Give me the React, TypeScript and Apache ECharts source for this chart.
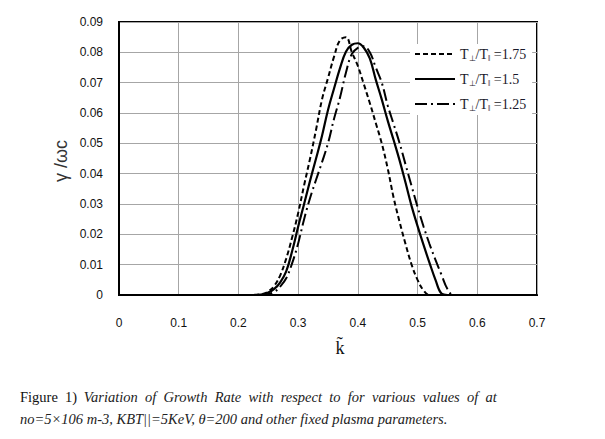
import React, { useEffect, useRef } from "react";
import * as echarts from "echarts";

const kValues = [
  0.2, 0.21, 0.22, 0.23, 0.24, 0.25, 0.26, 0.27, 0.28, 0.29, 0.3, 0.31, 0.32, 0.33, 0.34,
  0.35, 0.36, 0.37, 0.38, 0.39, 0.4, 0.41, 0.42, 0.43, 0.44, 0.45, 0.46, 0.47, 0.48, 0.49,
  0.5, 0.51, 0.52, 0.53, 0.54, 0.55, 0.56, 0.57, 0.58, 0.59, 0.6, 0.61, 0.62,
];
const growth175 = [
  0, 0, 0, 0.0001, 0.0003, 0.0012, 0.003, 0.0065, 0.012, 0.019, 0.027, 0.0362, 0.045, 0.0545, 0.0645,
  0.0715, 0.0785, 0.084, 0.085, 0.08, 0.0755, 0.0695, 0.0633, 0.0567, 0.05, 0.0417, 0.032, 0.024, 0.0167, 0.01,
  0.005, 0.0015, 0, 0, 0, 0, 0, 0, 0, 0, 0, 0, 0,
];
const growth15 = [
  0, 0, 0, 0, 0.0002, 0.0008, 0.002, 0.0042, 0.0078, 0.0145, 0.0225, 0.03, 0.0377, 0.045, 0.0525,
  0.061, 0.068, 0.0747, 0.0802, 0.0825, 0.083, 0.0815, 0.078, 0.071, 0.0645, 0.0575, 0.051, 0.0443, 0.0369, 0.0293,
  0.0227, 0.0165, 0.0106, 0.005, 0.0005, 0, 0, 0, 0, 0, 0, 0, 0,
];
const growth125 = [
  0, 0, 0, 0, 0, 0.0003, 0.001, 0.0028, 0.0055, 0.0105, 0.017, 0.025, 0.032, 0.038, 0.0438,
  0.05, 0.058, 0.065, 0.0733, 0.0795, 0.0815, 0.082, 0.08, 0.075, 0.07, 0.0625, 0.0563, 0.05, 0.0429, 0.0359,
  0.029, 0.0226, 0.0168, 0.0116, 0.0067, 0.002, 0, 0, 0, 0, 0, 0, 0,
];
const seriesNames = ["1.75", "1.5", "1.25"];
const yTicks = ["0", "0.01", "0.02", "0.03", "0.04", "0.05", "0.06", "0.07", "0.08", "0.09"];

export default function App() {
  const ref = useRef<HTMLDivElement>(null);
  useEffect(() => {
    if (!ref.current) return;
    const chart = echarts.init(ref.current, null, { renderer: "svg" });
    const mk = (vals: number[]) => kValues.map((k, i) => [k, vals[i]]);
    const lineCommon = {
      type: "line",
      smooth: 0.4,
      showSymbol: false,
      symbol: "none",
    };
    chart.setOption({
      animation: false,
      backgroundColor: "#fff",
      grid: {
        left: 119,
        top: 22,
        right: 68,
        bottom: 144,
        show: true,
        borderColor: "#000",
        borderWidth: 2,
        backgroundColor: "transparent",
      },
      xAxis: {
        type: "value",
        min: 0,
        max: 0.7,
        interval: 0.1,
        axisLine: { show: true, lineStyle: { color: "#000", width: 2 } },
        axisTick: { show: false },
        splitLine: { show: true, lineStyle: { color: "#a6a6a6", width: 1 } },
        axisLabel: {
          margin: 22,
          color: "#111",
          fontFamily: "Liberation Sans",
          fontSize: 12,
          formatter: (v: number) => String(Math.round(v * 10) / 10),
        },
      },
      yAxis: {
        type: "value",
        min: 0,
        max: 0.09,
        interval: 0.01,
        axisLine: { show: true, lineStyle: { color: "#000", width: 2 } },
        axisTick: { show: false },
        splitLine: { show: true, lineStyle: { color: "#a6a6a6", width: 1 } },
        axisLabel: {
          margin: 16,
          color: "#111",
          fontFamily: "Liberation Sans",
          fontSize: 12,
          formatter: (v: number) => yTicks[Math.round(v * 100)] ?? "",
        },
      },
      legend: {
        orient: "vertical",
        left: 410,
        top: 44,
        itemGap: 10,
        itemWidth: 40,
        itemHeight: 14,
        itemStyle: { opacity: 0, color: "transparent", borderWidth: 0 },
        backgroundColor: "#fff",
        padding: [3, 6, 3, 4],
        data: seriesNames,
        formatter: (name: string) => `T{s|⊥}/T{s|‖} =${name}`,
        textStyle: {
          fontFamily: "Liberation Serif",
          fontSize: 14,
          color: "#1a1a2a",
          rich: {
            s: {
              fontFamily: "Liberation Serif",
              fontSize: 8,
              padding: [8, 0, 0, 0],
              color: "#1a1a2a",
            },
          },
        },
      },
      series: [
        {
          ...lineCommon,
          name: seriesNames[0],
          data: mk(growth175),
          lineStyle: { color: "#000", width: 2, type: [5, 3] },
          itemStyle: { color: "#000" },
        },
        {
          ...lineCommon,
          name: seriesNames[1],
          data: mk(growth15),
          lineStyle: { color: "#000", width: 2.2, type: "solid" },
          itemStyle: { color: "#000" },
        },
        {
          ...lineCommon,
          name: seriesNames[2],
          data: mk(growth125),
          lineStyle: { color: "#000", width: 2, type: [12, 4, 2, 4] },
          itemStyle: { color: "#000" },
        },
      ],
      graphic: [
        {
          type: "text",
          x: 61,
          y: 161,
          rotation: Math.PI / 2,
          style: {
            text: "γ /ωc",
            fontFamily: "Liberation Sans",
            fontSize: 18,
            fill: "#333",
            align: "center",
            verticalAlign: "middle",
          },
        },
        {
          type: "text",
          x: 340,
          y: 348,
          style: {
            text: "k\u0303",
            fontFamily: "Liberation Serif",
            fontSize: 18,
            fill: "#111",
            align: "center",
            verticalAlign: "middle",
          },
        },
        {
          type: "text",
          x: 20,
          y: 397,
          style: {
            text: "{b|Figure  1)}  {i|Variation  of  Growth  Rate  with  respect  to  for  various  values  of  at}",
            verticalAlign: "middle",
            rich: {
              b: { fontFamily: "Liberation Serif", fontSize: 14.5, fill: "#111" },
              i: {
                fontFamily: "Liberation Serif",
                fontStyle: "italic",
                fontSize: 14.5,
                fill: "#222",
              },
            },
          },
        },
        {
          type: "text",
          x: 20,
          y: 419,
          style: {
            text: "no=5×106 m-3, KBT||=5KeV, θ=200 and other fixed plasma parameters.",
            fontFamily: "Liberation Serif",
            fontStyle: "italic",
            fontSize: 14.5,
            fill: "#222",
            verticalAlign: "middle",
          },
        },
      ],
    });
    return () => chart.dispose();
  }, []);
  return (
    <div
      ref={ref}
      style={{ position: "absolute", left: 0, top: 0, width: 605, height: 439 }}
    />
  );
}
